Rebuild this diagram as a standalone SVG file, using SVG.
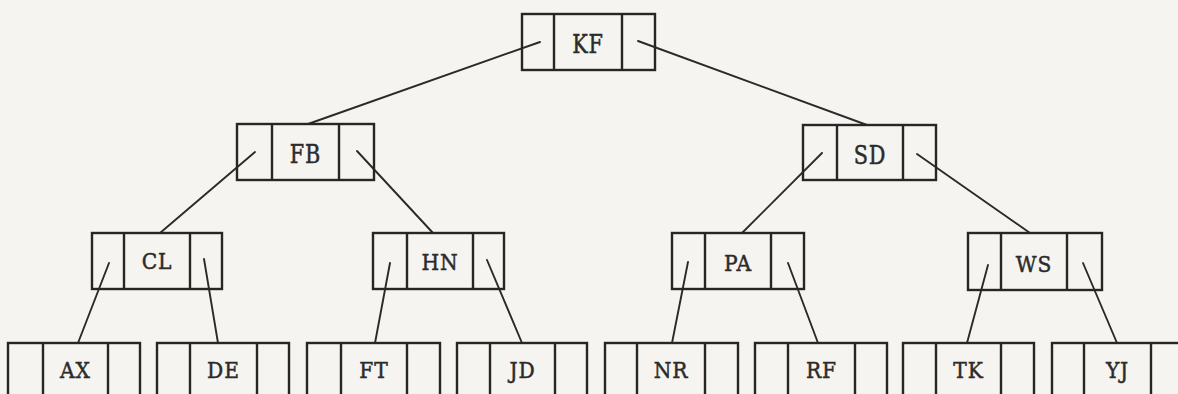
<svg xmlns="http://www.w3.org/2000/svg" width="1178" height="394" viewBox="0 0 1178 394">
  <style>
    .box { fill: none; stroke: #262626; stroke-width: 2.4; }
    .div { stroke: #262626; stroke-width: 2.4; }
    .edge { stroke: #2a2a2a; stroke-width: 1.9; fill: none; stroke-linecap: round; }
    .lbl { font-family: "DejaVu Serif", "Liberation Serif", serif; fill: #2b2b2b; stroke: #2b2b2b; stroke-width: 0.5; text-anchor: middle; letter-spacing: 1px; }
    .big { font-size: 26px; }
    .small { font-size: 23px; }
  </style>
  <rect x="0" y="0" width="1178" height="394" fill="#f5f4f0"/>

  <!-- parent-child links: from a pointer cell down to the child's top edge -->
  <g id="connectors">
    <line class="edge" x1="540" y1="42" x2="308" y2="124"/>
    <line class="edge" x1="638" y1="41" x2="867" y2="125"/>
    <line class="edge" x1="255" y1="152" x2="160" y2="233"/>
    <line class="edge" x1="357" y1="151" x2="433" y2="233"/>
    <line class="edge" x1="822" y1="153" x2="742" y2="233"/>
    <line class="edge" x1="917" y1="154" x2="1030" y2="233"/>
    <line class="edge" x1="109" y1="263" x2="78" y2="343"/>
    <line class="edge" x1="204" y1="259" x2="218" y2="343"/>
    <line class="edge" x1="390" y1="263" x2="375" y2="343"/>
    <line class="edge" x1="487" y1="260" x2="522" y2="343"/>
    <line class="edge" x1="688" y1="262" x2="672" y2="343"/>
    <line class="edge" x1="788" y1="263" x2="818" y2="343"/>
    <line class="edge" x1="988" y1="265" x2="967" y2="343"/>
    <line class="edge" x1="1083" y1="263" x2="1117" y2="343"/>
  </g>

  <!-- root -->
  <g id="node-KF">
    <rect class="box" x="522" y="14" width="133" height="56"/>
    <line class="div" x1="554" y1="14" x2="554" y2="70"/>
    <line class="div" x1="622" y1="14" x2="622" y2="70"/>
    <text class="lbl big" transform="translate(588 53) scale(0.8 1)">KF</text>
  </g>

  <!-- level 1 -->
  <g id="node-FB">
    <rect class="box" x="237" y="124" width="137" height="56"/>
    <line class="div" x1="272" y1="124" x2="272" y2="180"/>
    <line class="div" x1="339" y1="124" x2="339" y2="180"/>
    <text class="lbl big" transform="translate(305.5 163) scale(0.8 1)">FB</text>
  </g>
  <g id="node-SD">
    <rect class="box" x="803" y="125" width="133" height="55"/>
    <line class="div" x1="837" y1="125" x2="837" y2="180"/>
    <line class="div" x1="903" y1="125" x2="903" y2="180"/>
    <text class="lbl big" transform="translate(870 164) scale(0.8 1)">SD</text>
  </g>

  <!-- level 2 -->
  <g id="node-CL">
    <rect class="box" x="92" y="233" width="130" height="56"/>
    <line class="div" x1="124" y1="233" x2="124" y2="289"/>
    <line class="div" x1="190" y1="233" x2="190" y2="289"/>
    <text class="lbl small" transform="translate(157 269) scale(0.88 1)">CL</text>
  </g>
  <g id="node-HN">
    <rect class="box" x="373" y="233" width="131" height="56"/>
    <line class="div" x1="407" y1="233" x2="407" y2="289"/>
    <line class="div" x1="473" y1="233" x2="473" y2="289"/>
    <text class="lbl small" transform="translate(440 270) scale(0.88 1)">HN</text>
  </g>
  <g id="node-PA">
    <rect class="box" x="672" y="233" width="132" height="56"/>
    <line class="div" x1="705" y1="233" x2="705" y2="289"/>
    <line class="div" x1="771" y1="233" x2="771" y2="289"/>
    <text class="lbl small" transform="translate(738 271) scale(0.88 1)">PA</text>
  </g>
  <g id="node-WS">
    <rect class="box" x="968" y="233" width="134" height="57"/>
    <line class="div" x1="1001" y1="233" x2="1001" y2="290"/>
    <line class="div" x1="1067" y1="233" x2="1067" y2="290"/>
    <text class="lbl small" transform="translate(1034 272) scale(0.88 1)">WS</text>
  </g>

  <!-- level 3 (leaves run past the lower edge) -->
  <g id="node-AX">
    <rect class="box" x="8" y="343" width="132" height="70"/>
    <line class="div" x1="43" y1="343" x2="43" y2="413"/>
    <line class="div" x1="108" y1="343" x2="108" y2="413"/>
    <text class="lbl small" transform="translate(75.5 378) scale(0.88 1)">AX</text>
  </g>
  <g id="node-DE">
    <rect class="box" x="157" y="343" width="132" height="70"/>
    <line class="div" x1="190" y1="343" x2="190" y2="413"/>
    <line class="div" x1="257" y1="343" x2="257" y2="413"/>
    <text class="lbl small" transform="translate(223.5 378) scale(0.88 1)">DE</text>
  </g>
  <g id="node-FT">
    <rect class="box" x="307" y="343" width="133" height="70"/>
    <line class="div" x1="341" y1="343" x2="341" y2="413"/>
    <line class="div" x1="407" y1="343" x2="407" y2="413"/>
    <text class="lbl small" transform="translate(374 378) scale(0.88 1)">FT</text>
  </g>
  <g id="node-JD">
    <rect class="box" x="457" y="343" width="130" height="70"/>
    <line class="div" x1="490" y1="343" x2="490" y2="413"/>
    <line class="div" x1="555" y1="343" x2="555" y2="413"/>
    <text class="lbl small" transform="translate(522.5 378) scale(0.88 1)">JD</text>
  </g>
  <g id="node-NR">
    <rect class="box" x="605" y="343" width="133" height="70"/>
    <line class="div" x1="637" y1="343" x2="637" y2="413"/>
    <line class="div" x1="705" y1="343" x2="705" y2="413"/>
    <text class="lbl small" transform="translate(671 378) scale(0.88 1)">NR</text>
  </g>
  <g id="node-RF">
    <rect class="box" x="755" y="343" width="132" height="70"/>
    <line class="div" x1="788" y1="343" x2="788" y2="413"/>
    <line class="div" x1="855" y1="343" x2="855" y2="413"/>
    <text class="lbl small" transform="translate(821.5 378) scale(0.88 1)">RF</text>
  </g>
  <g id="node-TK">
    <rect class="box" x="903" y="343" width="131" height="70"/>
    <line class="div" x1="936" y1="343" x2="936" y2="413"/>
    <line class="div" x1="1001" y1="343" x2="1001" y2="413"/>
    <text class="lbl small" transform="translate(968.5 378) scale(0.88 1)">TK</text>
  </g>
  <g id="node-YJ">
    <rect class="box" x="1052" y="343" width="132" height="70"/>
    <line class="div" x1="1084" y1="343" x2="1084" y2="413"/>
    <line class="div" x1="1151" y1="343" x2="1151" y2="413"/>
    <text class="lbl small" transform="translate(1117.5 378) scale(0.88 1)">YJ</text>
  </g>
</svg>
